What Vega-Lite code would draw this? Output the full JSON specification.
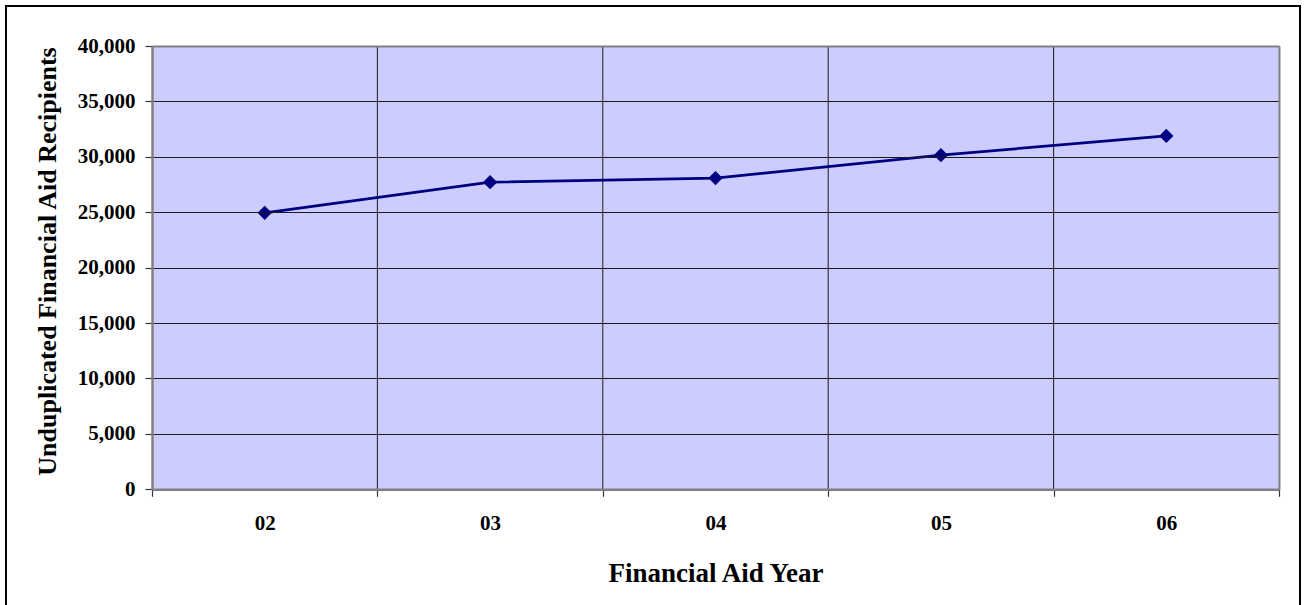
{
  "$schema": "https://vega.github.io/schema/vega-lite/v6.json",
  "width": 1294,
  "height": 606,
  "autosize": {"type": "none"},
  "padding": {"left": 6, "top": 6, "right": 6, "bottom": 0},
  "background": "white",
  "config": {
    "font": "Liberation Serif",
    "view": {"fill": "white", "stroke": "#000000", "strokeWidth": 2},
    "axis": {
      "labelFont": "Liberation Serif",
      "labelFontWeight": "bold",
      "labelFontSize": 21,
      "labelColor": "#000000",
      "titleFont": "Liberation Serif",
      "titleFontWeight": "bold",
      "titleColor": "#000000",
      "domainColor": "#808080",
      "tickColor": "#333333",
      "tickWidth": 1.2,
      "tickSize": 7,
      "gridColor": "#1a1a1a",
      "gridWidth": 1,
      "gridOpacity": 1
    }
  },
  "data": {
    "values": [
      {"year": "02", "recipients": 24950},
      {"year": "03", "recipients": 27710},
      {"year": "04", "recipients": 28080},
      {"year": "05", "recipients": 30150},
      {"year": "06", "recipients": 31890}
    ]
  },
  "layer": [
    {
      "description": "Plot area fill; its top and right edges come from the two border axes",
      "mark": {"type": "rect", "fill": "#CCCCFF", "zindex": 0},
      "encoding": {
        "x": {
          "field": "year",
          "type": "ordinal",
          "scale": {"type": "band", "range": [146, 1273], "paddingInner": 0, "paddingOuter": 0},
          "axis": {
            "orient": "top",
            "offset": -40,
            "domain": true,
            "domainWidth": 2,
            "ticks": false,
            "labels": false,
            "grid": false,
            "title": null,
            "zindex": 2
          }
        },
        "y": {
          "datum": 0,
          "type": "quantitative",
          "scale": {"domain": [0, 40000], "range": [483.3, 40], "nice": false, "zero": true},
          "axis": {
            "orient": "right",
            "offset": -21,
            "domain": true,
            "domainWidth": 2,
            "ticks": false,
            "labels": false,
            "grid": false,
            "title": null,
            "zindex": 2
          }
        },
        "y2": {"datum": 40000}
      }
    },
    {
      "description": "Vertical gridlines at the boundaries between financial aid years",
      "transform": [{"filter": "datum.year !== '02'"}],
      "mark": {"type": "rule", "color": "#1a1a1a", "strokeWidth": 1, "zindex": 1},
      "encoding": {
        "x": {
          "field": "year",
          "type": "ordinal",
          "bandPosition": 0,
          "scale": {"type": "band", "range": [146, 1273], "paddingInner": 0, "paddingOuter": 0},
          "axis": null
        },
        "y": {
          "datum": 0,
          "type": "quantitative",
          "scale": {"domain": [0, 40000], "range": [483.3, 40], "nice": false, "zero": true},
          "axis": null
        },
        "y2": {"datum": 40000}
      }
    },
    {
      "mark": {
        "type": "line",
        "color": "#000080",
        "strokeWidth": 2.75,
        "zindex": 3,
        "point": {"shape": "diamond", "filled": true, "size": 205, "color": "#000080", "opacity": 1}
      },
      "encoding": {
        "x": {
          "field": "year",
          "type": "ordinal",
          "scale": {"type": "band", "range": [146, 1273], "paddingInner": 0, "paddingOuter": 0},
          "axis": {
            "orient": "bottom",
            "offset": -122.7,
            "title": "Financial Aid Year",
            "titleFontSize": 27,
            "labelAngle": 0,
            "tickBand": "extent",
            "grid": false,
            "domain": true,
            "domainWidth": 2.5,
            "labelPadding": 16,
            "titlePadding": 27,
            "zindex": 1
          }
        },
        "y": {
          "field": "recipients",
          "type": "quantitative",
          "scale": {"domain": [0, 40000], "range": [483.3, 40], "nice": false, "zero": true},
          "axis": {
            "orient": "left",
            "offset": -146,
            "title": "Unduplicated Financial Aid Recipients",
            "titleFontSize": 26,
            "titleY": 255,
            "values": [0, 5000, 10000, 15000, 20000, 25000, 30000, 35000, 40000],
            "format": ",d",
            "grid": true,
            "domain": true,
            "domainWidth": 2.5,
            "labelPadding": 10,
            "titlePadding": 17,
            "zindex": 1
          }
        }
      }
    }
  ],
  "resolve": {"axis": {"x": "independent", "y": "independent"}}
}
